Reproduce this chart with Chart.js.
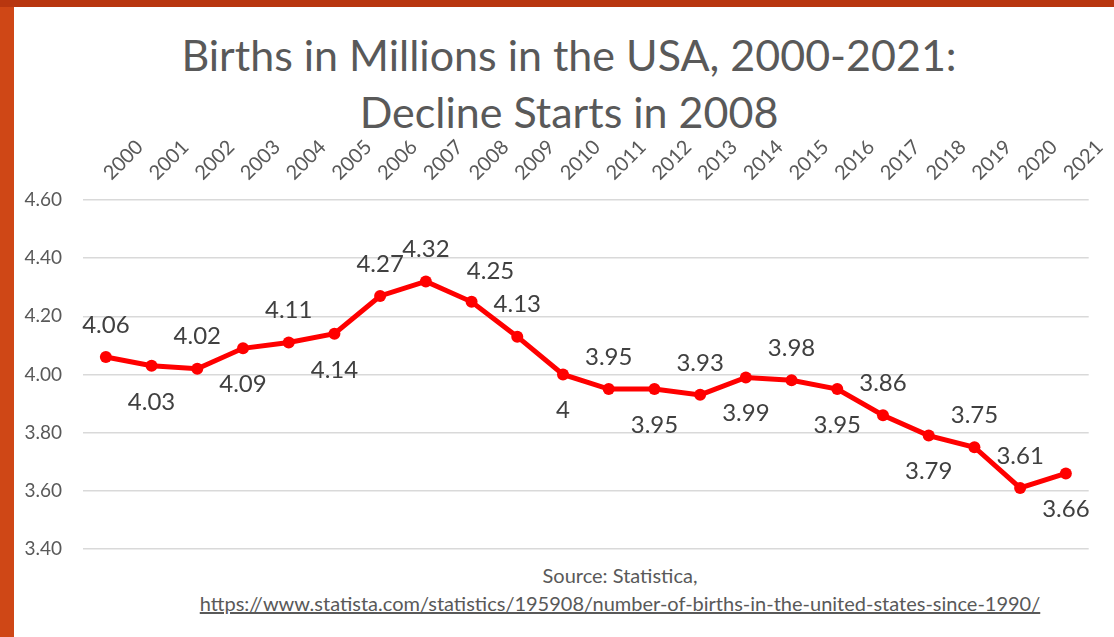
<!DOCTYPE html>
<html>
<head>
<meta charset="utf-8">
<script src="https://cdn.jsdelivr.net/npm/chart.js@4.4.1/dist/chart.umd.min.js"></script>
<style>
    html, body { margin: 0; padding: 0; }
    body { width: 1114px; height: 637px; background: #cf4716; position: relative; overflow: hidden; font-family: Lato, sans-serif; }
    .topband { position: absolute; left: 0; top: 0; width: 1114px; height: 7px; background: #b8360f; }
    .panel { position: absolute; left: 14px; top: 7px; width: 1100px; height: 630px; background: #ffffff; }
    .title { position: absolute; left: 0; width: 1138px; text-align: center; color: #595959; font-size: 43px; line-height: 43px; white-space: nowrap; }
    .source { position: absolute; left: 0; width: 1240px; text-align: center; color: #595959; font-size: 20px; line-height: 20px; white-space: nowrap; }
    .source a { color: #595959; text-decoration: underline; }
    canvas { position: absolute; left: 0; top: 0; }
</style>
</head>
<body>
<div class="topband"></div>
<div class="panel"></div>
<div class="title" style="top: 33px;">Births in Millions in the USA, 2000-2021:</div>
<div class="title" style="top: 90px;">Decline Starts in 2008</div>
<div class="source" style="top: 565px;">Source: Statistica,</div>
<div class="source" style="top: 593px;"><a>https://www.statista.com/statistics/195908/number-of-births-in-the-united-states-since-1990/</a></div>
<canvas id="chart" width="1114" height="637"></canvas>
<script>
// Data
const years = ['2000', '2001', '2002', '2003', '2004', '2005', '2006', '2007', '2008', '2009', '2010',
    '2011', '2012', '2013', '2014', '2015', '2016', '2017', '2018', '2019', '2020', '2021'];
const births = [4.06, 4.03, 4.02, 4.09, 4.11, 4.14, 4.27, 4.32, 4.25, 4.13, 4.00,
    3.95, 3.95, 3.93, 3.99, 3.98, 3.95, 3.86, 3.79, 3.75, 3.61, 3.66];
const yTicks = [3.40, 3.60, 3.80, 4.00, 4.20, 4.40, 4.60];
// where each value label sits relative to its point
const labelSide = ['above', 'below', 'above', 'below', 'above', 'below', 'above', 'above', 'aboveRight', 'above', 'below',
    'above', 'below', 'above', 'below', 'above', 'below', 'above', 'below', 'above', 'above', 'below'];

const textColor = '#595959';

// Value labels next to the points
const valueLabels = {
    id: 'valueLabels',
    afterDatasetsDraw(chart) {
        const ctx = chart.ctx;
        const meta = chart.getDatasetMeta(0);
        ctx.save();
        ctx.font = '24px Lato';
        ctx.fillStyle = '#404040';
        ctx.textAlign = 'center';
        ctx.textBaseline = 'middle';
        meta.data.forEach((pt, i) => {
            let dx = 0, dy = -32;
            if (labelSide[i] === 'below') dy = 36;
            if (labelSide[i] === 'aboveRight') { dx = 19; dy = -31; }
            ctx.fillText(String(births[i]), pt.x + dx, pt.y + dy);
        });
        ctx.restore();
    }
};

new Chart(document.getElementById('chart').getContext('2d'), {
    type: 'line',
    data: {
        labels: years,
        datasets: [{
            data: births,
            borderColor: '#ff0000',
            backgroundColor: '#ff0000',
            borderWidth: 5,
            pointRadius: 6,
            pointBackgroundColor: '#ff0000',
            pointBorderWidth: 0,
            tension: 0
        }]
    },
    options: {
        responsive: false,
        animation: false,
        devicePixelRatio: 1,
        layout: { padding: { top: 130, right: 15, bottom: 88, left: 0 } },
        plugins: {
            legend: { display: false },
            tooltip: { enabled: false }
        },
        scales: {
            x: {
                position: 'top',
                offset: true,
                grid: { display: false, drawTicks: false },
                border: { display: false },
                ticks: {
                    color: textColor,
                    font: { family: 'Lato', size: 20 },
                    minRotation: 45,
                    maxRotation: 45,
                    autoSkip: false,
                    padding: 15,
                    labelOffset: 18
                },
                afterFit(scale) { scale.height = 70; }
            },
            y: {
                min: yTicks[0],
                max: yTicks[yTicks.length - 1],
                afterBuildTicks(scale) { scale.ticks = yTicks.map(v => ({ value: v })); },
                grid: { color: '#d9d9d9', lineWidth: 1.5, drawTicks: false },
                border: { display: false },
                ticks: {
                    color: textColor,
                    font: { family: 'Lato', size: 19 },
                    padding: 21,
                    callback: v => Number(v).toFixed(2)
                },
                afterFit(scale) { scale.width = 83; }
            }
        }
    },
    plugins: [valueLabels]
});
</script>
</body>
</html>
